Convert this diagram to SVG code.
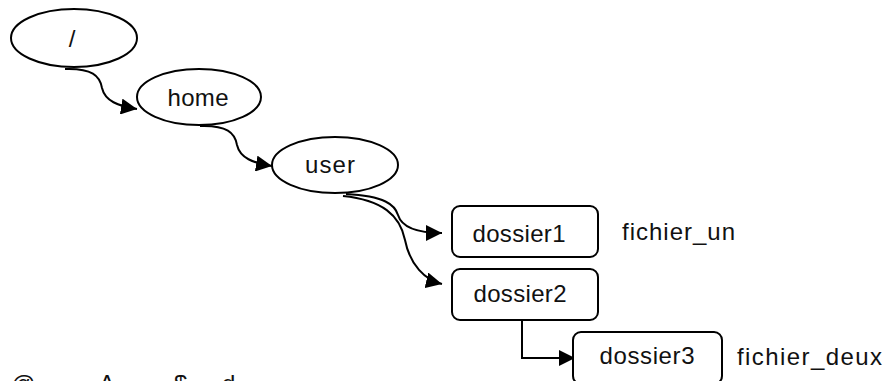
<svg xmlns="http://www.w3.org/2000/svg" width="887" height="381" viewBox="0 0 887 381">
<style>
.n{fill:#fff;stroke:#000;stroke-width:2}
.t{font-family:"Liberation Sans",Arial,sans-serif;font-size:24px;fill:#111}
.c{fill:none;stroke:#000;stroke-width:2;marker-end:url(#ah)}
</style>
<defs>
<marker id="ah" viewBox="0 0 10 10" refX="10" refY="5" markerUnits="userSpaceOnUse" markerWidth="16" markerHeight="16" orient="auto">
<path d="M0,0 L10,5 L0,10 z" fill="#000"/>
</marker>
</defs>
<rect width="887" height="381" fill="#fff"/>
<g id="connectors">
<path class="c" d="M65,69 C92,68 100,76 102,88 C105,101 118,106 137,109"/>
<path class="c" d="M200,126 C227,125 235,133 237,145 C240,158 253,163 272,166"/>
<path class="c" d="M346,194 C385,196 395,205 398,215 C402,228 420,233 442,233"/>
<path class="c" d="M343,196 C382,200 400,215 405,240 C410,265 425,280 442,284"/>
<path class="c" d="M522,320 V358 H575"/>
</g>
<g id="root">
<ellipse class="n" cx="74" cy="38" rx="63" ry="29"/>
<text class="t" x="72" y="47" text-anchor="middle" fill="#555">/</text>
</g>
<g id="home">
<ellipse class="n" cx="199" cy="97" rx="62" ry="28"/>
<text class="t" x="198" y="106" text-anchor="middle" textLength="61">home</text>
</g>
<g id="user">
<ellipse class="n" cx="335" cy="165" rx="63" ry="28"/>
<text class="t" x="330" y="173" text-anchor="middle" textLength="50">user</text>
</g>
<g id="dossier1">
<rect class="n" x="452" y="206" width="146" height="51" rx="8"/>
<text class="t" x="519" y="242" text-anchor="middle" textLength="93">dossier1</text>
</g>
<g id="dossier2">
<rect class="n" x="452" y="269" width="146" height="51" rx="8"/>
<text class="t" x="520" y="302" text-anchor="middle" textLength="93">dossier2</text>
</g>
<g id="dossier3">
<rect class="n" x="573" y="332" width="149" height="52" rx="8"/>
<text class="t" x="647" y="364" text-anchor="middle" textLength="95">dossier3</text>
</g>
<g id="fichier_un">
<text class="t" x="622" y="240" textLength="113">fichier_un</text>
</g>
<g id="fichier_deux">
<text class="t" x="737" y="365" textLength="145">fichier_deux</text>
</g>
<text class="t" x="11" y="392">@</text>
<text class="t" x="99" y="392">A</text>
<text class="t" x="174" y="392">$</text>
<text class="t" x="222" y="392">d</text>
</svg>
